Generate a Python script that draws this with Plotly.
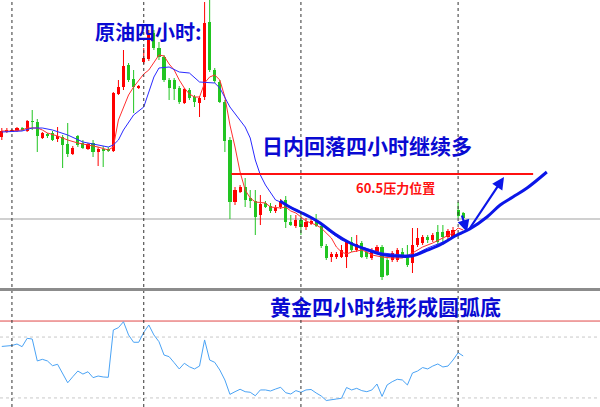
import plotly.graph_objects as go

# ---------------- data ----------------
idx = list(range(92))
opens = [61.24,61.34,61.34,61.36,61.42,61.36,61.56,61.54,61.22,61.30,61.32,61.20,61.24,61.10,60.90,61.26,61.12,61.00,61.12,60.94,
         61.00,61.00,60.96,62.10,62.24,62.68,62.40,62.22,62.74,62.80,63.32,63.02,62.84,62.38,62.38,62.22,61.92,62.18,62.04,61.92,
         62.04,63.54,62.58,62.34,61.94,61.18,59.94,60.14,60.24,60.02,59.96,59.68,59.92,59.86,59.76,59.84,59.98,59.54,59.46,59.58,
         59.44,59.50,59.56,59.46,59.06,58.84,58.84,58.84,58.84,59.14,58.98,59.12,58.94,58.82,58.94,59.04,58.78,58.78,58.78,58.94,
         58.88,58.72,59.08,59.12,59.24,59.18,59.34,59.34,59.24,59.24,59.78,59.72]
closes = [61.36,61.38,61.38,61.42,61.38,61.56,61.54,61.26,61.32,61.26,61.18,61.26,61.08,60.90,61.02,61.08,61.02,61.10,60.94,61.00,
          60.96,60.96,62.12,62.24,62.66,62.38,62.24,62.26,62.82,63.28,63.02,62.84,62.38,62.22,62.20,61.94,62.20,62.02,61.94,62.02,
          63.52,62.58,62.36,61.94,61.16,59.94,60.18,60.24,59.98,59.96,59.64,59.90,59.84,59.76,59.82,59.96,59.54,59.48,59.58,59.44,
          59.54,59.56,59.46,59.06,58.82,58.90,58.90,58.98,59.14,58.98,59.10,58.84,58.84,58.98,59.04,58.44,58.48,58.92,58.98,58.84,
          58.68,59.08,59.22,59.24,59.18,59.28,59.14,59.24,59.36,59.38,59.66,59.62]
highs = [61.42,61.42,61.40,61.44,61.44,61.58,61.78,61.60,61.34,61.32,61.36,61.44,61.28,61.52,61.06,61.28,61.18,61.12,61.18,61.04,
         61.06,61.04,62.14,62.38,62.98,62.72,62.58,62.28,63.02,63.38,63.38,63.14,62.88,62.42,62.42,62.26,62.22,62.22,62.08,62.06,
         63.94,63.98,62.62,62.38,61.98,61.24,60.24,60.28,60.42,60.18,60.18,60.08,59.96,59.92,59.88,60.00,60.06,59.68,59.68,59.68,
         59.62,59.60,59.70,59.50,59.10,58.94,58.94,59.08,59.18,59.24,59.28,59.16,58.98,59.02,59.08,59.08,58.82,58.96,59.02,59.02,
         59.08,59.42,59.42,59.28,59.28,59.32,59.48,59.48,59.40,59.44,59.94,59.74]
lows = [61.18,61.32,61.34,61.34,61.36,61.34,61.38,60.94,61.20,61.22,61.16,61.14,60.62,60.84,60.88,61.04,61.00,60.98,60.84,60.66,
        60.64,60.94,60.94,62.08,62.18,62.34,61.72,62.20,62.70,62.76,62.98,62.78,62.34,61.98,61.98,61.90,61.90,61.98,61.84,61.64,
        61.98,62.54,62.32,61.92,60.94,59.60,59.88,60.12,59.84,59.82,59.28,59.48,59.82,59.72,59.72,59.80,59.42,59.46,59.42,59.28,
        59.38,59.48,59.44,59.02,58.78,58.74,58.80,58.82,58.62,58.94,58.94,58.82,58.80,58.78,58.90,58.38,58.46,58.74,58.74,58.82,
        58.64,58.52,59.04,59.08,59.12,59.14,59.08,59.08,59.18,59.22,59.62,59.60]

fast_ma_idx = [0,2,4,5,7,8,9,11,13,15,17,19,21,22,23,25,26,27,28,29,30,31,32,33,34,35,36,37,38,39,40,41,42,43,44,45,46,47,48,49,50,
               52,53,55,56,57,58,59,60,61,62,63,64,65,66,67,68,69,71,72,73,75,77,79,81,83,85,87,89,90,91]
fast_ma = [61.36,61.36,61.38,61.42,61.42,61.38,61.32,61.26,61.18,61.12,61.08,61.04,60.98,61.04,61.58,62.08,62.24,62.38,62.50,62.58,
           62.74,62.88,62.86,62.70,62.58,62.38,62.22,62.10,62.04,62.04,62.32,62.44,62.48,62.38,62.04,61.48,61.04,60.54,60.18,60.02,
           59.94,59.92,59.84,59.82,59.84,59.76,59.72,59.64,59.56,59.52,59.48,59.42,59.32,59.22,59.04,58.94,58.90,58.94,58.98,58.94,
           58.88,58.84,58.82,58.82,58.92,59.04,59.12,59.22,59.32,59.42,59.38]

slow_ma_idx = [0,4,6,8,10,13,16,19,21,22,23,24,26,28,29,30,31,33,35,37,39,42,43,45,48,49,50,51,52,53,54,55,57,59,61,63,65,67,69,
               71,73,75,77,79,81,82,84,86,88,90,91]
slow_ma = [61.34,61.36,61.42,61.42,61.38,61.28,61.14,61.08,61.04,61.08,61.18,61.38,61.68,61.84,62.12,62.44,62.62,62.64,62.54,
           62.52,62.34,62.32,62.22,61.84,61.44,61.22,60.78,60.48,60.28,60.12,59.98,59.94,59.84,59.74,59.62,59.48,59.32,59.18,
           59.10,59.04,58.98,58.92,58.90,58.88,58.88,58.92,59.02,59.10,59.18,59.28,59.32]

osc = [52.2,52.6,53.0,54.3,52.0,59.2,58.6,39.7,41.1,39.7,35.6,36.8,29.3,20.9,26.1,31.0,28.4,30.4,25.3,26.7,
       25.9,25.6,66.4,68.4,73.5,62.1,55.8,55.8,64.4,70.7,62.1,56.3,44.8,43.4,38.2,32.8,37.7,34.7,32.8,35.3,
       57.8,40.5,38.5,31.9,23.3,10.9,13.2,15.3,13.2,12.7,9.7,14.7,14.7,13.8,15.5,17.0,12.3,11.2,14.1,12.7,
       14.7,15.1,12.1,9.5,5.6,6.5,6.9,7.5,16.8,14.7,16.1,14.1,13.2,14.7,19.8,9.1,19.0,21.8,23.9,23.3,
       19.0,29.3,31.0,34.0,32.8,35.3,37.1,34.5,35.3,40.5,46.8,44.0]
osc_levels_solid = [74.1]
osc_levels_dotted = [60.3, 7.8]

separator_idx = [2, 28, 59, 90]
grid_price = 59.60
resistance_price = 60.5
resistance_span = [45.3, 104.8]

# hand-drawn rounded-bottom curve (index, price)
curve_idx = [54.9,56.8,58.8,60.8,62.8,65.7,68.7,71.6,74.6,77.5,80.9,83.5,86.4,89.4,92.3,95.7,98.3,100.8,103.6,107.5]
curve_price = [59.96,59.84,59.74,59.64,59.52,59.30,59.12,59.00,58.90,58.86,58.86,58.96,59.08,59.26,59.40,59.64,59.88,60.04,60.22,60.54]
# arrows: (tail_idx, tail_price, head_idx, head_price)
arrows = [(90.67, 59.70, 91.75, 59.34), (91.95, 59.36, 99.05, 60.44)]

title_main = "原油四小时:"
note_pullback = "日内回落四小时继续多"
note_resist = "60.5压力位置"
note_gold = "黄金四小时线形成圆弧底"

# ---------------- figure ----------------
RED = "#ff0000"
GREEN = "#22c522"
FONT = "Noto Sans CJK SC"

fig = go.Figure()

body_base = [min(o, c) for o, c in zip(opens, closes)]
body_h = [abs(c - o) for o, c in zip(opens, closes)]
colors = [RED if c >= o else GREEN for o, c in zip(opens, closes)]

for col in (RED, GREEN):
    wx, wy = [], []
    for i, h, l, c in zip(idx, highs, lows, colors):
        if c == col:
            wx += [i, i, None]
            wy += [l, h, None]
    fig.add_trace(go.Scatter(x=wx, y=wy, mode="lines", line=dict(color=col, width=1),
                             hoverinfo="skip", showlegend=False, xaxis="x", yaxis="y"))

fig.add_trace(go.Bar(x=idx, y=body_h, base=body_base, width=0.62, marker=dict(color=colors, line=dict(width=0)),
                     showlegend=False, xaxis="x", yaxis="y"))

fig.add_trace(go.Scatter(x=fast_ma_idx, y=fast_ma, mode="lines", line=dict(color="#ff3030", width=1),
                         showlegend=False, xaxis="x", yaxis="y"))
fig.add_trace(go.Scatter(x=slow_ma_idx, y=slow_ma, mode="lines", line=dict(color="#2a2aff", width=1),
                         showlegend=False, xaxis="x", yaxis="y"))
fig.add_trace(go.Scatter(x=curve_idx, y=curve_price, mode="lines", line=dict(color="#0b16e8", width=3, shape="spline"),
                         showlegend=False, xaxis="x", yaxis="y"))

fig.add_trace(go.Scatter(x=idx, y=osc, mode="lines", line=dict(color="#4aa3f5", width=1),
                         showlegend=False, xaxis="x2", yaxis="y2"))

shapes = []
for s in separator_idx:
    shapes.append(dict(type="line", xref="x", yref="paper", x0=s, x1=s, y0=0, y1=1,
                       line=dict(color="#333333", width=1, dash="dot"), layer="above"))
shapes.append(dict(type="line", xref="paper", yref="y", x0=0, x1=1, y0=grid_price, y1=grid_price,
                   line=dict(color="#d0d0d0", width=2), layer="below"))
shapes.append(dict(type="line", xref="x", yref="y", x0=resistance_span[0], x1=resistance_span[1],
                   y0=resistance_price, y1=resistance_price, line=dict(color="#ff1010", width=2)))
for v in osc_levels_solid:
    shapes.append(dict(type="line", xref="paper", yref="y2", x0=0, x1=1, y0=v, y1=v,
                       line=dict(color="#e04848", width=1), layer="below"))
for v in osc_levels_dotted:
    shapes.append(dict(type="line", xref="paper", yref="y2", x0=0, x1=1, y0=v, y1=v,
                       line=dict(color="#c8c8c8", width=1, dash="dot"), layer="below"))
shapes.append(dict(type="line", xref="paper", yref="paper", x0=0, x1=1, y0=1 - 289.5 / 407, y1=1 - 289.5 / 407,
                   line=dict(color="#8c8c8c", width=3)))

annotations = []
for tx, ty, hx, hy in arrows:
    annotations.append(dict(x=hx, y=hy, ax=tx, ay=ty, xref="x", yref="y", axref="x", ayref="y",
                            text="", showarrow=True, arrowhead=2, arrowsize=1.1, arrowwidth=2.2,
                            arrowcolor="#0b16e8"))

def label(txt, px, py, size, color):
    annotations.append(dict(text="<b>" + txt + "</b>", x=px / 600, y=1 - py / 407, xref="paper", yref="paper",
                            xanchor="center", yanchor="middle", showarrow=False,
                            font=dict(family=FONT, size=size, color=color)))

label(title_main, 148, 32, 20, "#0a0ad2")
label(note_pullback, 367, 145, 21, "#0a0ad2")
label(note_resist, 395, 187, 13, "#ff1010")
label(note_gold, 385, 306, 21, "#0a0ad2")

xr = [-1.8 / 5.07, -1.8 / 5.07 + 600 / 5.07]
fig.update_layout(
    width=600, height=407, margin=dict(l=0, r=0, t=0, b=0),
    paper_bgcolor="white", plot_bgcolor="white", showlegend=False, bargap=0,
    xaxis=dict(domain=[0, 1], range=xr, visible=False, anchor="y"),
    yaxis=dict(domain=[1 - 288 / 407, 1], range=[58.22, 63.98], visible=False, anchor="x"),
    xaxis2=dict(domain=[0, 1], range=xr, visible=False, anchor="y2"),
    yaxis2=dict(domain=[0, 1 - 291 / 407], range=[0, 100], visible=False, anchor="x2"),
    shapes=shapes, annotations=annotations,
)

fig.write_html("out.html", config={"displayModeBar": False},
               post_script="document.body.style.margin='0';document.body.style.overflow='hidden';")
